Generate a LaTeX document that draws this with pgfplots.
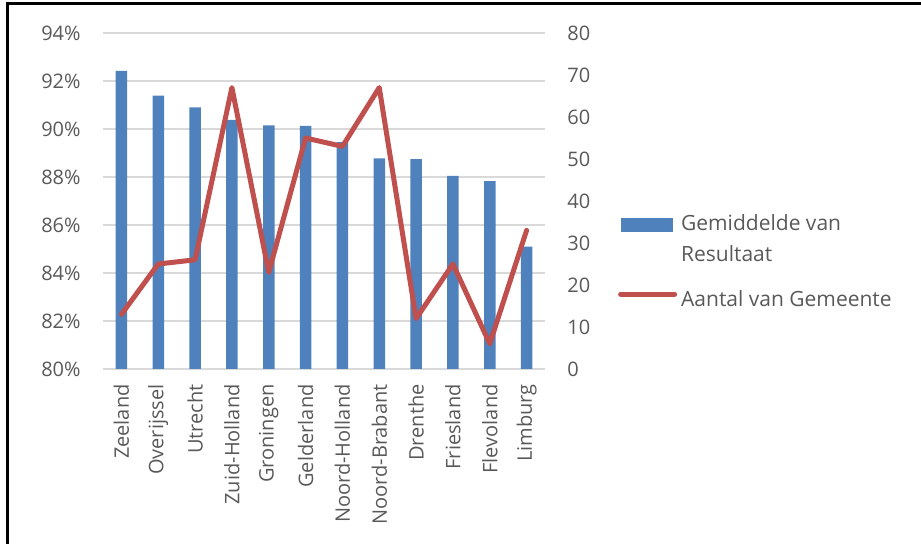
\documentclass[border=0pt]{standalone}
\usepackage{fontspec}
\setmainfont{Open Sans}
\usepackage{pgfplots}
\usepackage{pgfplotstable}
\pgfplotsset{compat=1.18}

\definecolor{barblue}{HTML}{4F81BD}
\definecolor{linered}{HTML}{C0504D}
\definecolor{ticktext}{HTML}{595959}
\definecolor{gridgray}{HTML}{D9D9D9}

\pgfplotstableread{
x name bar line
0 Zeeland 92.42 13
1 Overijssel 91.39 25
2 Utrecht 90.90 26
3 Zuid-Holland 90.38 67
4 Groningen 90.15 23
5 Gelderland 90.13 55
6 Noord-Holland 89.45 53
7 Noord-Brabant 88.78 67
8 Drenthe 88.74 12
9 Friesland 88.05 25
10 Flevoland 87.83 6
11 Limburg 85.10 33
}\datatable

\begin{document}
\begin{tikzpicture}
  \useasboundingbox (0pt,0pt) rectangle (460.5pt,-272pt);
  \draw[line width=1.25pt] (3.75pt,-272pt) -- (3.75pt,-1.75pt) -- (460.5pt,-1.75pt);

  \pgfplotsset{
    every axis/.append style={
      scale only axis,
      width=221pt, height=168pt,
      xmin=-0.5, xmax=11.5,
      major tick length=0pt,
      axis line style={draw=none},
      tick label style={font=\fontsize{10}{12}\selectfont, text=ticktext},
      /pgf/number format/assume math mode=true,
    },
  }

  \begin{axis}[
    at={(51.5pt,-184.5pt)}, anchor=south west,
    axis x line*=bottom, axis y line*=left,
    ymin=80, ymax=94, ytick={80,82,...,94},
    yticklabel={\pgfmathprintnumber{\tick}\%},
    yticklabel style={inner xsep=11pt},
    ymajorgrids, major grid style={gridgray, line width=0.75pt},
    xtick=data,
    xticklabels from table={\datatable}{name},
    xticklabel style={rotate=90, anchor=east, inner xsep=7.5pt, inner ysep=0pt},
    legend style={at={(1.151,0.318)}, anchor=west, draw=none, fill=none,
      font=\fontsize{10.5}{15.5}\selectfont, text=ticktext,
      cells={anchor=west, align=left}, row sep=9pt},
  ]
    \draw[gridgray, line width=0.75pt] (axis cs:-0.5,80) -- (axis cs:11.5,80);
    \addplot[ybar, bar width=5.75pt, fill=barblue, draw=none,
      legend image code/.code={\fill[barblue] (0pt,4pt) rectangle (26pt,11pt);}]
      table[x=x, y=bar] {\datatable};
    \addlegendentry{Gemiddelde van\\Resultaat}
    \addlegendimage{legend image code/.code={\draw[linered, line width=2.5pt, line cap=round] (0pt,3pt) -- (27pt,3pt);}}
    \addlegendentry{Aantal van Gemeente}
  \end{axis}

  \begin{axis}[
    at={(51.5pt,-184.5pt)}, anchor=south west,
    axis x line=none, axis y line*=right,
    ymin=0, ymax=80, ytick={0,10,...,80},
    yticklabel style={inner xsep=11pt},
  ]
    \addplot[linered, line width=2.5pt, line join=round, line cap=round]
      table[x=x, y=line] {\datatable};
  \end{axis}
\end{tikzpicture}
\end{document}
